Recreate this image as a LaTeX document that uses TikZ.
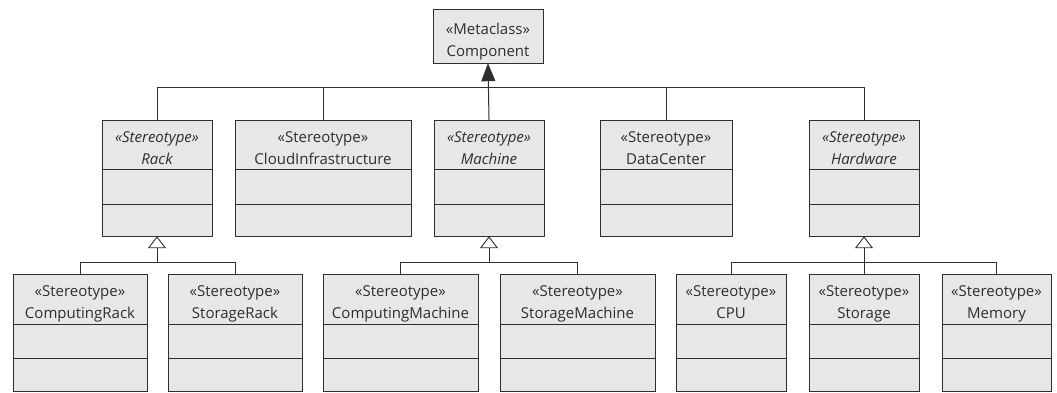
\documentclass[tikz,border=0pt]{standalone}
\usepackage{fontspec}
\setmainfont{Open Sans}
\usetikzlibrary{arrows.meta}
\definecolor{boxfill}{HTML}{E6E7E8}
\definecolor{ink}{HTML}{2E2E2E}
\tikzset{
  cls/.style={draw=ink, fill=boxfill, line width=0.9pt, rectangle, inner sep=0pt},
  divider/.style={draw=ink, line width=0.9pt},
  label/.style={text=ink, font=\fontsize{15}{22}\selectfont, align=center, inner sep=0pt},
  wire/.style={draw=ink, line width=1pt},
  gen/.style={wire, -{Triangle[open, length=12pt, width=18pt, line width=0.9pt]}},
  ext/.style={wire, -{Triangle[length=18pt, width=14pt]}}
}
% #1 name, #2 left, #3 top, #4 right, #5 bottom, #6 first divider, #7 second divider, #8 text
\newcommand{\stereobox}[8]{%
  \path[cls] (#2,#3) rectangle (#4,#5);
  \node[inner sep=0pt, minimum width=#4pt-#2pt, minimum height=#5pt-#3pt] (#1) at ({(#2+#4)/2},{(#3+#5)/2}) {};
  \draw[divider] (#2,#6) -- (#4,#6);
  \draw[divider] (#2,#7) -- (#4,#7);
  \node[label] (#1-t) at ({(#2+#4)/2},{(#3+#6)/2+4.5}) {#8};
}
\newcommand{\twolines}[2]{\strut#1\\\strut#2}
\newcommand{\twoitalic}[2]{\itshape\strut#1\\\itshape\strut#2}
\begin{document}
\begin{tikzpicture}[x=1pt, y=-1pt]
\useasboundingbox (0,0) rectangle (1057,392);

% metaclass
\path[cls] (433,9) rectangle (543,63);
\node[inner sep=0pt, minimum width=110pt, minimum height=54pt] (comp) at (488,36) {};
\node[label] (comp-t) at (488,41) {\twolines{«Metaclass»}{Component}};

% stereotypes extending the metaclass
\stereobox{rack}{102}{120}{212}{236}{169}{204}{\twoitalic{«Stereotype»}{Rack}}
\stereobox{cloud}{235}{120}{411}{236}{169}{204}{\twolines{«Stereotype»}{CloudInfrastructure}}
\stereobox{machine}{434}{120}{544}{236}{169}{204}{\twoitalic{«Stereotype»}{Machine}}
\stereobox{dc}{600}{120}{732}{236}{169}{204}{\twolines{«Stereotype»}{DataCenter}}
\stereobox{hw}{809}{120}{919}{236}{169}{204}{\twoitalic{«Stereotype»}{Hardware}}

% specialised stereotypes
\stereobox{crack}{13}{274}{147}{391}{324}{358}{\twolines{«Stereotype»}{ComputingRack}}
\stereobox{srack}{168}{274}{302}{391}{324}{358}{\twolines{«Stereotype»}{StorageRack}}
\stereobox{cmach}{323}{274}{478}{391}{324}{358}{\twolines{«Stereotype»}{ComputingMachine}}
\stereobox{smach}{500}{274}{655}{391}{324}{358}{\twolines{«Stereotype»}{StorageMachine}}
\stereobox{cpu}{676}{274}{786}{391}{324}{358}{\twolines{«Stereotype»}{CPU}}
\stereobox{stor}{809}{274}{919}{391}{324}{358}{\twolines{«Stereotype»}{Storage}}
\stereobox{mem}{942}{274}{1051}{391}{324}{358}{\twolines{«Stereotype»}{Memory}}

% extension bus
\coordinate (bus) at (489,87);
\draw[wire] (rack.north) -- (rack.north |- bus) -- (hw.north |- bus) -- (hw.north);
\draw[wire] (cloud.north) -- (cloud.north |- bus);
\draw[wire] (dc.north) -- (dc.north |- bus);
\draw[ext] (machine.north) -- (comp.south);

% generalisation buses
\coordinate (rbus) at (157,262);
\draw[wire] (crack.north) -- (crack.north |- rbus) -- (srack.north |- rbus) -- (srack.north);
\draw[gen] (rbus) -- (rack.south);

\coordinate (mbus) at (489,262);
\draw[wire] (cmach.north) -- (cmach.north |- mbus) -- (smach.north |- mbus) -- (smach.north);
\draw[gen] (mbus) -- (machine.south);

\coordinate (hbus) at (864,262);
\draw[wire] (cpu.north) -- (cpu.north |- hbus) -- (mem.north |- hbus) -- (mem.north);
\draw[gen] (stor.north) -- (hw.south);
\end{tikzpicture}
\end{document}
